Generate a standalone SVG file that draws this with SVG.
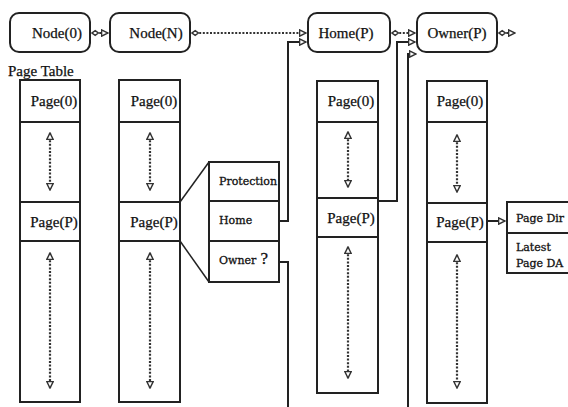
<svg xmlns="http://www.w3.org/2000/svg" width="568" height="407" viewBox="0 0 568 407">
<style>
.box{fill:#fff;stroke:#222;stroke-width:2}
.ln{fill:none;stroke:#222;stroke-width:2}
.thin{fill:none;stroke:#222;stroke-width:1.5}
.dot{fill:none;stroke:#333;stroke-width:2.2;stroke-dasharray:2 1.6}
.t{font-family:"Liberation Serif",serif;font-size:15px;fill:#111;stroke:#111;stroke-width:0.25}
.s{font-family:"DejaVu Serif","Liberation Serif",serif;font-size:11px;fill:#111;stroke:#111;stroke-width:0.3}
</style>
<defs>
<marker id="ah" viewBox="0 0 10 10" refX="9" refY="5" markerWidth="8" markerHeight="8" markerUnits="userSpaceOnUse" orient="auto-start-reverse">
<path d="M1,1 L9,5 L1,9 Z" fill="#fff" stroke="#333" stroke-width="1.8"/>
</marker>
<marker id="dm" viewBox="0 0 10 10" refX="9" refY="5" markerWidth="8" markerHeight="8" markerUnits="userSpaceOnUse" orient="auto-start-reverse">
<path d="M1,5 L5,2 L9,5 L5,8 Z" fill="#fff" stroke="#333" stroke-width="1.8"/>
</marker>
</defs>

<g id="node0"><rect class="box" x="10" y="13" width="80" height="39" rx="9"/><text class="t" x="57" y="38" text-anchor="middle">Node(0)</text></g>
<g id="nodeN"><rect class="box" x="110" y="13" width="80" height="39" rx="9"/><text class="t" x="156" y="38" text-anchor="middle">Node(N)</text></g>
<g id="homeP"><rect class="box" x="308" y="13" width="82" height="39" rx="9"/><text class="t" x="346" y="38" text-anchor="middle">Home(P)</text></g>
<g id="ownerP"><rect class="box" x="417" y="13" width="80" height="39" rx="9"/><text class="t" x="457" y="38" text-anchor="middle">Owner(P)</text></g>

<text class="t" x="8" y="76" font-size="14">Page Table</text>

<g id="table1">
<rect class="box" x="20" y="80" width="60" height="322"/>
<line class="ln" x1="20" y1="122" x2="80" y2="122"/>
<line class="ln" x1="20" y1="202" x2="80" y2="202"/>
<line class="ln" x1="20" y1="241" x2="80" y2="241"/>
<text class="t" x="54" y="106" text-anchor="middle">Page(0)</text>
<text class="t" x="54" y="227" text-anchor="middle">Page(P)</text>
</g>
<g id="table2">
<rect class="box" x="119" y="80" width="61" height="322"/>
<line class="ln" x1="119" y1="122" x2="180" y2="122"/>
<line class="ln" x1="119" y1="202" x2="180" y2="202"/>
<line class="ln" x1="119" y1="241" x2="180" y2="241"/>
<text class="t" x="154" y="106" text-anchor="middle">Page(0)</text>
<text class="t" x="154" y="227" text-anchor="middle">Page(P)</text>
</g>
<g id="table3">
<rect class="box" x="317" y="81" width="61" height="312"/>
<line class="ln" x1="317" y1="122" x2="378" y2="122"/>
<line class="ln" x1="317" y1="198" x2="378" y2="198"/>
<line class="ln" x1="317" y1="237" x2="378" y2="237"/>
<text class="t" x="351" y="106" text-anchor="middle">Page(0)</text>
<text class="t" x="351" y="223" text-anchor="middle">Page(P)</text>
</g>
<g id="table4">
<rect class="box" x="427" y="81" width="60" height="322"/>
<line class="ln" x1="427" y1="122" x2="487" y2="122"/>
<line class="ln" x1="427" y1="203" x2="487" y2="203"/>
<line class="ln" x1="427" y1="242" x2="487" y2="242"/>
<text class="t" x="460" y="106" text-anchor="middle">Page(0)</text>
<text class="t" x="460" y="227" text-anchor="middle">Page(P)</text>
</g>

<g id="entry">
<rect class="box" x="209" y="162" width="70" height="120"/>
<line class="ln" x1="209" y1="201" x2="279" y2="201"/>
<line class="ln" x1="209" y1="241" x2="279" y2="241"/>
<text class="s" x="219" y="185">Protection</text>
<text class="s" x="219" y="224">Home</text>
<text class="s" x="219" y="264">Owner<tspan font-family="Liberation Serif" font-size="17"> ?</tspan></text>
</g>

<g id="pagedir">
<rect class="box" x="507" y="202" width="70" height="71"/>
<line class="ln" x1="507" y1="233" x2="577" y2="233"/>
<text class="s" x="516" y="222">Page Dir</text>
<text class="s" x="516" y="251">Latest</text>
<text class="s" x="516" y="267">Page DA</text>
</g>

<g id="connectors">
<line class="dot" x1="92" y1="33" x2="108" y2="33" marker-start="url(#dm)" marker-end="url(#ah)"/>
<line class="dot" x1="192" y1="33" x2="306" y2="33" marker-start="url(#dm)" marker-end="url(#ah)"/>
<line class="dot" x1="392" y1="33" x2="415" y2="33" marker-start="url(#dm)" marker-end="url(#ah)"/>
<line class="dot" x1="499" y1="33" x2="515" y2="33" marker-start="url(#dm)" marker-end="url(#ah)"/>

<line class="dot" x1="50" y1="133" x2="50" y2="190" marker-start="url(#ah)" marker-end="url(#ah)"/>
<line class="dot" x1="50" y1="253" x2="50" y2="388" marker-start="url(#ah)" marker-end="url(#ah)"/>
<line class="dot" x1="150" y1="133" x2="150" y2="190" marker-start="url(#ah)" marker-end="url(#ah)"/>
<line class="dot" x1="150" y1="253" x2="150" y2="388" marker-start="url(#ah)" marker-end="url(#ah)"/>
<line class="dot" x1="348" y1="132" x2="348" y2="187" marker-start="url(#ah)" marker-end="url(#ah)"/>
<line class="dot" x1="348" y1="247" x2="348" y2="378" marker-start="url(#ah)" marker-end="url(#ah)"/>
<line class="dot" x1="457" y1="135" x2="457" y2="192" marker-start="url(#ah)" marker-end="url(#ah)"/>
<line class="dot" x1="457" y1="255" x2="457" y2="388" marker-start="url(#ah)" marker-end="url(#ah)"/>

<line class="thin" x1="180" y1="202" x2="209" y2="162"/>
<line class="thin" x1="180" y1="241" x2="209" y2="282"/>

<polyline class="ln" points="279,221 288,221 288,42 306,42" marker-end="url(#ah)"/>
<polyline class="ln" points="279,262 288,262 288,407"/>
<polyline class="ln" points="378,201 397,201 397,42 415,42" marker-end="url(#ah)"/>
<polyline class="ln" points="408,407 408,54 416,54" marker-end="url(#ah)"/>
<line class="ln" x1="487" y1="221" x2="505" y2="221" marker-end="url(#ah)"/>
</g>
</svg>
